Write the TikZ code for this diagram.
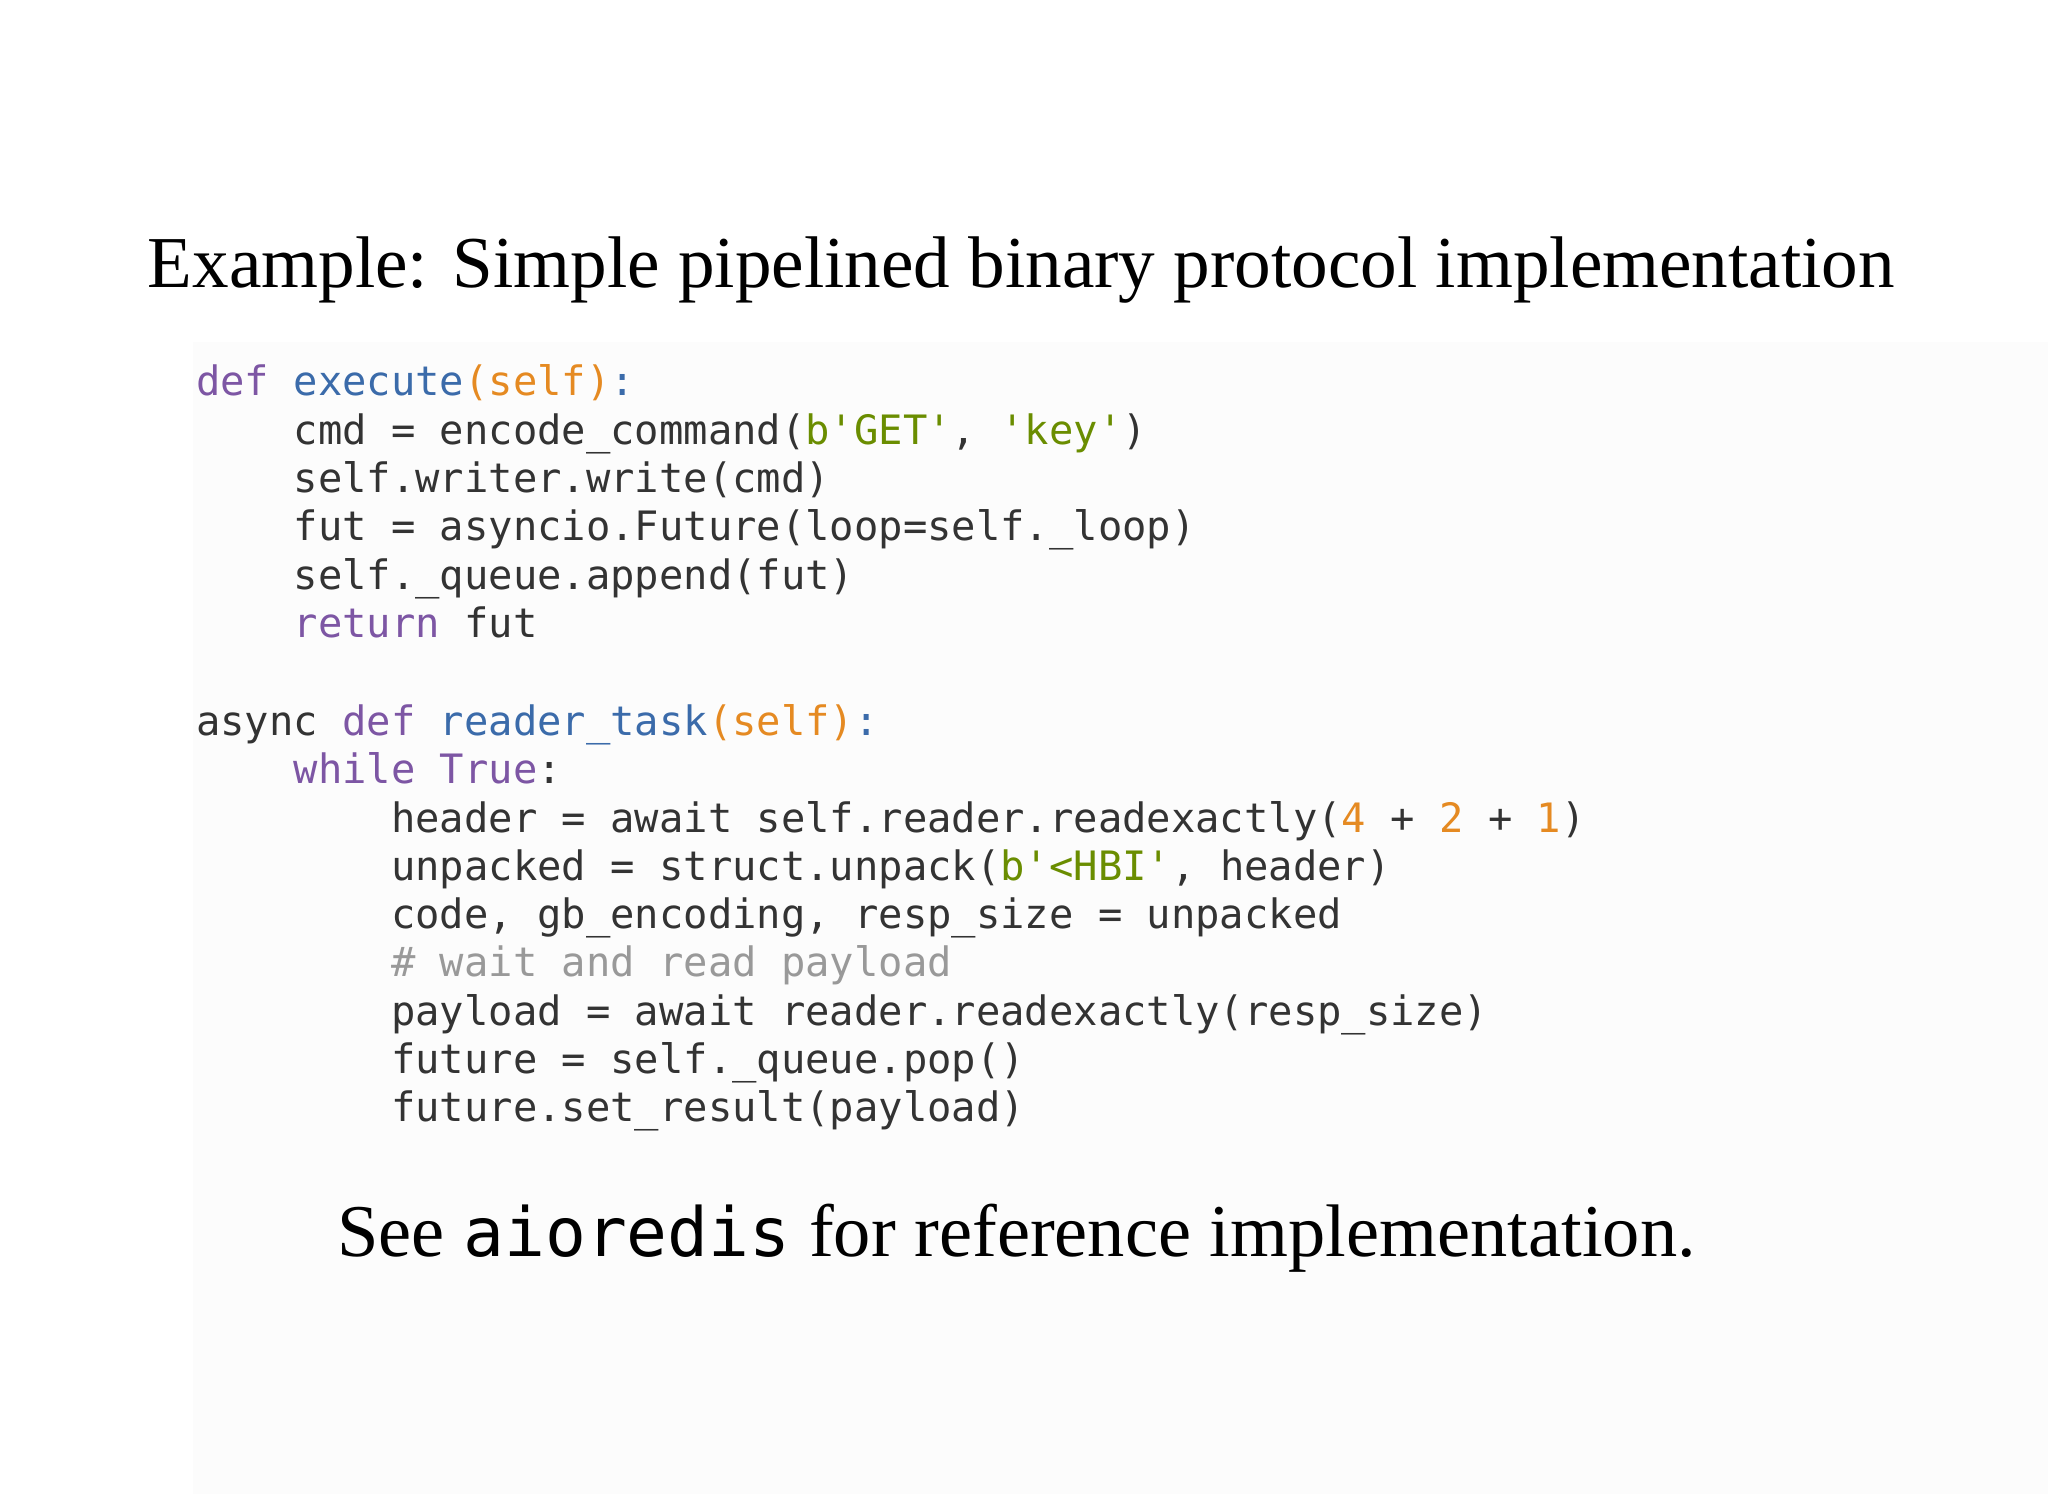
\documentclass[tikz,border=0pt]{standalone}
\usepackage{fontspec}
\setmainfont{Liberation Serif}
\newfontfamily\cd{DejaVu Sans Mono}
\definecolor{kw}{HTML}{7D56A4}
\definecolor{fn}{HTML}{3B6BAA}
\definecolor{nm}{HTML}{E58A22}
\definecolor{st}{HTML}{6A8D00}
\definecolor{tx}{HTML}{333333}
\definecolor{cm}{HTML}{999999}
\newcommand{\K}[1]{\textcolor{kw}{#1}}
\newcommand{\F}[1]{\textcolor{fn}{#1}}
\newcommand{\N}[1]{\textcolor{nm}{#1}}
\newcommand{\St}[1]{\textcolor{st}{#1}}
\begin{document}
\begin{tikzpicture}[x=1pt,y=-1pt,
  cl/.style={anchor=base west,inner sep=0pt,font=\cd\fontsize{31}{31}\selectfont,text=tx},
  ttl/.style={anchor=base west,inner sep=0pt,font=\fontsize{56}{56}\selectfont,text=black}]
\useasboundingbox (0,0) rectangle (1568,1144);
\fill[white] (0,0) rectangle (1568,1144);
\fill[black!1] (148,262) rectangle (1568,1144);
\node[ttl] (title) at (113,220) {Example: Simple pipelined binary protocol implementation};
\node[cl] (l1) at (150,303) {\K{def} \F{execute}\N{(self)}\F{:}};
\node[cl] (l2) at (150,340) {\phantom{xxxx}cmd = encode\_command(\St{b'GET'}, \St{'key'})};
\node[cl] (l3) at (150,377) {\phantom{xxxx}self.writer.write(cmd)};
\node[cl] (l4) at (150,414) {\phantom{xxxx}fut = asyncio.Future(loop=self.\_loop)};
\node[cl] (l5) at (150,451) {\phantom{xxxx}self.\_queue.append(fut)};
\node[cl] (l6) at (150,488) {\phantom{xxxx}\K{return} fut};
\node[cl] (l7) at (150,563) {async \K{def} \F{reader\_task}\N{(self)}\F{:}};
\node[cl] (l8) at (150,600) {\phantom{xxxx}\K{while} \K{True}:};
\node[cl] (l9) at (150,637) {\phantom{xxxxxxxx}header = await self.reader.readexactly(\N{4} + \N{2} + \N{1})};
\node[cl] (l10) at (150,674) {\phantom{xxxxxxxx}unpacked = struct.unpack(\St{b'<HBI'}, header)};
\node[cl] (l11) at (150,711) {\phantom{xxxxxxxx}code, gb\_encoding, resp\_size = unpacked};
\node[cl] (l12) at (150,748) {\phantom{xxxxxxxx}\textcolor{cm}{\# wait and read payload}};
\node[cl] (l13) at (150,785) {\phantom{xxxxxxxx}payload = await reader.readexactly(resp\_size)};
\node[cl] (l14) at (150,822) {\phantom{xxxxxxxx}future = self.\_queue.pop()};
\node[cl] (l15) at (150,859) {\phantom{xxxxxxxx}future.set\_result(payload)};
\node[ttl,font=\fontsize{57}{57}\selectfont] (foot) at (258,962) {See {\cd\fontsize{52}{52}\selectfont aioredis} for reference implementation.};
\end{tikzpicture}
\end{document}
